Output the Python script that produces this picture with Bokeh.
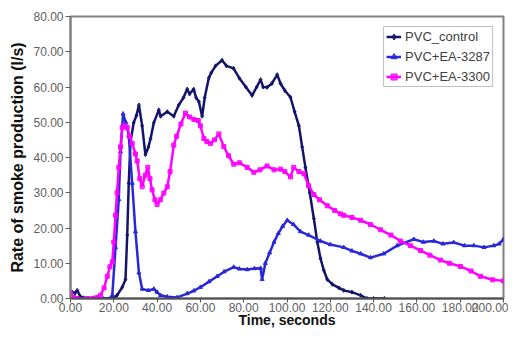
from bokeh.plotting import figure
from bokeh.models import FixedTicker, NumeralTickFormatter, Legend, LegendItem, Range1d
from bokeh.embed import file_html
from bokeh.resources import INLINE

# ---- data (time in s, smoke production rate in l/s) ----
ctrl_t = [0, 0.8, 2, 3.1, 4.6, 6, 10, 15, 20, 21.5, 23.9, 25.4, 26.2, 26.9, 27.7, 29.2, 30.5, 31.6,
          33.1, 34.6, 36, 37, 38.5, 40.8, 41.6, 44.7, 47.7, 50, 52.2, 53.9, 55, 56.9, 58, 59.3, 60.8,
          62, 63.9, 65, 67, 70, 72, 75.3, 78, 81, 83.9, 86, 87.8, 89, 90.8, 93, 95.5, 97, 99, 101.6,
          103.5, 105.5, 107, 108.5, 110.5, 112.4, 114, 115.5, 117, 118.6, 121, 124, 126.2, 130, 134,
          137, 140, 145]
ctrl_v = [0.3, 1.8, 1.5, 2.3, 0.5, 0.2, 0, 0, 0.2, 0.9, 3.2, 5.4, 18, 32.7, 44.4, 49.9, 52, 54.9,
          49, 40.8, 43, 45.4, 49.9, 53.5, 51.7, 53, 51.7, 54.9, 57, 59.4, 58, 59.4, 57, 55.8, 51.7,
          57, 62.6, 64, 66, 67.6, 66, 65.3, 62.5, 60, 57.6, 60, 62.1, 60, 59.9, 61, 63.5, 61, 59, 57.1,
          53, 49, 43, 37.2, 30, 22.7, 16, 11.3, 8, 5.4, 4, 3, 2.3, 1.8, 0.9,
          0, 0, 0]

ea3287_t = [0, 10, 18.5, 19.3, 20.8, 22.3, 23.1, 24.3, 25.5, 26.9, 28.5, 30, 31.6, 33.1, 36, 38.5,
            40, 41.6, 44.7, 49.3, 53.9, 57, 60, 64, 67.8, 71, 75.4, 78, 81.6, 85, 87.8, 88.5, 90,
            92, 94, 96, 98, 100.1, 103, 106.2, 110, 115.5, 120, 126.2, 130, 134, 138.6, 144.7,
            150.9, 158.6, 163, 167.8, 172, 177, 182, 186.3, 191, 195.5, 198, 200]
ea3287_v = [0, 0, 0, 0.9, 14.5, 28.1, 41.7, 52.4, 50, 46.3, 32.7, 19, 7.3, 2.7, 2.3, 2.7,
            1.8, 0.9, 0.5, 0.3, 1.4, 2.2, 3.2, 4.8, 6.3, 7.6, 8.9, 8.4, 8.2, 8.5, 8.6, 5.4, 10,
            13, 16, 18.5, 20.5, 22.2, 21, 19, 18, 16.3, 15.3, 14.5, 13.5, 12.7, 11.6, 12.7,
            15, 16.8, 16, 16.3, 15.5, 15.9, 15, 15, 14.5, 15, 15.5, 16.8]

ea3300_t = [0, 1.5, 3, 8, 13.9, 15.5, 17, 18.2, 19.3, 20, 20.8, 21.5, 22.3, 23.1, 23.9, 25, 26.2,
            27.3, 28.5, 30, 30.8, 32, 33.1, 34.5, 35.7, 36.7, 37.7, 39, 40, 41.5, 43.1, 44.7, 46,
            47.7, 49, 51, 53.1, 55, 57, 59, 60, 61.6, 63, 64.7, 66.5, 68.5, 70.8, 73, 75.4, 78,
            81.6, 84.7, 87.5, 90.8, 94, 97, 99, 101.6, 103.1, 105.5, 107.8, 110, 112.4, 115, 118.6,
            122, 124.7, 126.2, 130, 134, 138.5, 143.2, 148, 152.4, 157, 161.7, 166, 170.9, 175,
            180.1, 185, 189.4, 195, 200]
ea3300_v = [1.5, 0.3, 0, 0, 0.9, 3, 6.3, 9, 10.4, 16, 23.6, 30, 37.2, 43, 48.5, 49, 48.5,
            46, 44, 41, 39, 34, 31.7, 35, 37.2, 34, 30.8, 28, 26.7, 28, 29.9, 31.7, 36,
            43.5, 46, 49.5, 52.6, 51.5, 50.8, 50.5, 49, 45.4, 44.5, 44, 45, 46.7, 43.1, 40.5, 38.1, 38.5,
            37.2, 35.8, 36.5, 37.6, 36.5, 36.7, 36, 34.5, 37.2, 36, 35.4, 32, 29.5, 28, 26.3,
            25, 24, 23.6, 23, 22.2, 21, 19.5, 18, 16.3, 15, 13.6, 12.3, 10.9, 10,
            9.1, 7.8, 6.3, 5.3, 5]

series_names = ["PVC_control", "PVC+EA-3287", "PVC+EA-3300"]
x_ticks = [0, 20, 40, 60, 80, 100, 120, 140, 160, 180, 200]
y_ticks = [0, 10, 20, 30, 40, 50, 60, 70, 80]

FONT = "Liberation Sans"

p = figure(width=508, height=330, output_backend="svg", toolbar_location=None,
           x_range=Range1d(0, 200), y_range=Range1d(0, 80),
           min_border_left=70, min_border_right=5, min_border_top=16, min_border_bottom=28)
p.background_fill_color = "white"
p.border_fill_color = "white"
p.xgrid.visible = False
p.ygrid.visible = False
p.outline_line_color = "#808080"
p.outline_line_width = 2

styles = [
    (ctrl_t, ctrl_v, "#14146b", "diamond"),
    (ea3287_t, ea3287_v, "#2828d8", "triangle"),
    (ea3300_t, ea3300_v, "#ff00ff", "square"),
]
items = []
for (tx, vy, col, mk), name in zip(styles, series_names):
    ln = p.line(tx, vy, line_color=col, line_width=2.5)
    sc = p.scatter(tx, vy, marker=mk, size=4, fill_color=col, line_color=col, fill_alpha=0.7)
    items.append(LegendItem(label=name, renderers=[ln, sc]))

legend = Legend(items=items, location="top_right", margin=10)
legend.label_text_font = FONT
legend.label_text_font_size = "13px"
legend.label_text_color = "#404040"
legend.border_line_color = "#808080"
legend.border_line_width = 1
legend.padding = 2
legend.spacing = 5
legend.glyph_width = 15
legend.glyph_height = 15
legend.label_height = 15
legend.label_standoff = 4
legend.label_width = 0
legend.background_fill_alpha = 1
p.add_layout(legend, "center")

for ax in (p.xaxis[0], p.yaxis[0]):
    ax.major_label_text_font = FONT
    ax.major_label_text_font_size = "12px"
    ax.major_label_text_color = "#606060"
    ax.minor_tick_line_color = None
    ax.formatter = NumeralTickFormatter(format="0.00")
    ax.major_tick_in = 0
    ax.major_tick_out = 5
    ax.major_label_standoff = 2

p.xaxis[0].ticker = FixedTicker(ticks=x_ticks)
p.yaxis[0].ticker = FixedTicker(ticks=y_ticks)
p.xaxis[0].axis_line_color = "#505050"
p.xaxis[0].axis_line_width = 2
p.xaxis[0].major_tick_line_color = "#505050"
p.xaxis[0].major_tick_out = 4
p.xaxis[0].major_label_standoff = 0
p.yaxis[0].axis_line_color = "#808080"
p.yaxis[0].axis_line_width = 2
p.yaxis[0].major_tick_line_color = "#606060"

p.yaxis[0].axis_label = "Rate of smoke production (l/s)"
p.yaxis[0].axis_label_text_font = FONT
p.yaxis[0].axis_label_text_font_size = "16px"
p.yaxis[0].axis_label_text_font_style = "bold"
p.yaxis[0].axis_label_text_color = "#111111"
p.yaxis[0].axis_label_standoff = 4

p.xaxis[0].axis_label = "Time, seconds"
p.xaxis[0].axis_label_text_font = FONT
p.xaxis[0].axis_label_text_font_size = "14px"
p.xaxis[0].axis_label_text_font_style = "bold"
p.xaxis[0].axis_label_text_color = "#111111"
p.xaxis[0].axis_label_standoff = -3

open("out.html", "w").write(file_html(p, INLINE))
